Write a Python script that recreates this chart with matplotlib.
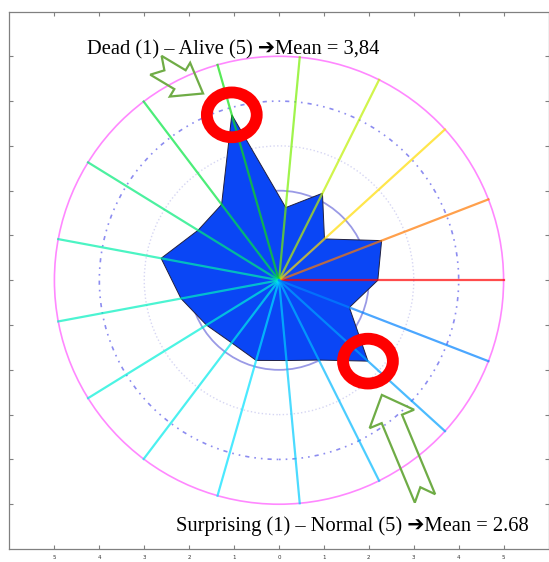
import numpy as np
import matplotlib
matplotlib.use("Agg")
import matplotlib.pyplot as plt
from matplotlib.patches import Polygon, Ellipse, Circle

# mean rating on each of the 17 spokes (counter-clockwise from east)
ratings = [2.2, 2.45, 1.37, 2.17, 1.63, 3.84, 2.12, 2.12, 2.67,
           2.22, 1.9, 1.75, 1.86, 1.8, 1.99, 2.68, 1.68]
spoke_colors = ['#ff0000', '#ff7800', '#ffdc00', '#bef000', '#78f000', '#10e010',
                '#00e640', '#00eb78', '#00f0aa', '#00f0c0', '#00f0d8', '#00ebeb',
                '#00e1ff', '#00cdff', '#00b9ff', '#00a0ff', '#0082ff']
grid_radii = [2, 3, 4, 5]
xtick_vals = [-5, -4, -3, -2, -1, 0, 1, 2, 3, 4, 5]
xtick_labels = ['5', '4', '3', '2', '1', '0', '1', '2', '3', '4', '5']
top_label = "Dead (1) \u2013 Alive (5) \u2794Mean = 3,84"
bottom_label = "Surprising (1) \u2013 Normal (5) \u2794Mean = 2.68"
marked = [5, 15]   # spokes circled in red


def block_arrow(tail, tip, sw, hw, hl, nd):
    # notched block arrow outline from tail centre to tip
    tail = np.array(tail); tip = np.array(tip)
    d = tip - tail
    L = np.hypot(*d)
    u = d / L
    v = np.array([-u[1], u[0]])
    pts = [(0, sw/2), (L-hl, sw/2), (L-hl, hw/2), (L, 0), (L-hl, -hw/2),
           (L-hl, -sw/2), (0, -sw/2), (nd, 0)]
    return np.array([tail + a*u + b*v for a, b in pts])


fig = plt.figure(figsize=(5.49, 5.62), dpi=100)
ax = fig.add_axes([0.0173, 0.0231, 0.9818, 0.9564])
ax.set_xlim(-6, 6)
ax.set_ylim(-6, 6)

n = len(ratings)
theta = np.arange(n) * 2*np.pi/n
r = np.array(ratings)
px = r*np.cos(theta)
py = r*np.sin(theta)

# grid circles
ax.add_patch(Circle((0, 0), grid_radii[0], fill=False, ec='#9a9ae6', lw=1.3, zorder=1))
ax.add_patch(Circle((0, 0), grid_radii[1], fill=False, ec='#d6d6f3', lw=1.0, ls=':', zorder=1))
ax.add_patch(Circle((0, 0), grid_radii[2], fill=False, ec='#8c8cf0', lw=1.2,
                    ls=(0, (1, 3, 1, 3, 2.5, 3)), zorder=1))
ax.add_patch(Circle((0, 0), grid_radii[3], fill=False, ec='#ff88ff', lw=1.2, zorder=1))

# the rating polygon
ax.add_patch(Polygon(np.column_stack([px, py]), closed=True, fc='#0a46f5',
                     ec='#202040', lw=0.7, zorder=2))

# spokes
for t, c in zip(theta, spoke_colors):
    ax.plot([0, 5*np.cos(t)], [0, 5*np.sin(t)], color=c, lw=1.6, alpha=0.7, zorder=3)

# red rings on the two highlighted values
for k in marked:
    ax.add_patch(Ellipse((px[k], py[k]), 1.11, 1.0, fill=False, ec='#ff0000',
                         lw=8.5, zorder=5))

# green block arrows
arr1 = block_arrow((-2.74, 4.80), (-1.69, 4.17), 0.49, 0.88, 0.6, 0.22)
arr2 = block_arrow((3.25, -4.87), (2.29, -2.56), 0.49, 1.07, 0.58, 0.27)
for a in [arr1, arr2]:
    ax.add_patch(Polygon(a, closed=True, fill=False, ec='#6fac46', lw=1.6, zorder=6))

serif = ['Liberation Serif', 'DejaVu Sans']
ax.text(-4.28, 5.04, top_label, family=serif, fontsize=14.8, ha='left', va='baseline', zorder=7)
ax.text(-2.29, -5.6, bottom_label, family=serif, fontsize=14.8, ha='left', va='baseline', zorder=7)

# axes frame and ticks
ax.set_xticks(xtick_vals)
ax.set_xticklabels(xtick_labels)
ax.set_yticks(xtick_vals)
ax.set_yticklabels([])
ax.tick_params(direction='in', length=3, width=0.8, color='#808080',
               top=True, right=True, labelsize=4, pad=4, labelcolor='#333333')
for s in ax.spines.values():
    s.set_color('#808080')
    s.set_linewidth(0.9)

fig.savefig("out.png", dpi=100)
